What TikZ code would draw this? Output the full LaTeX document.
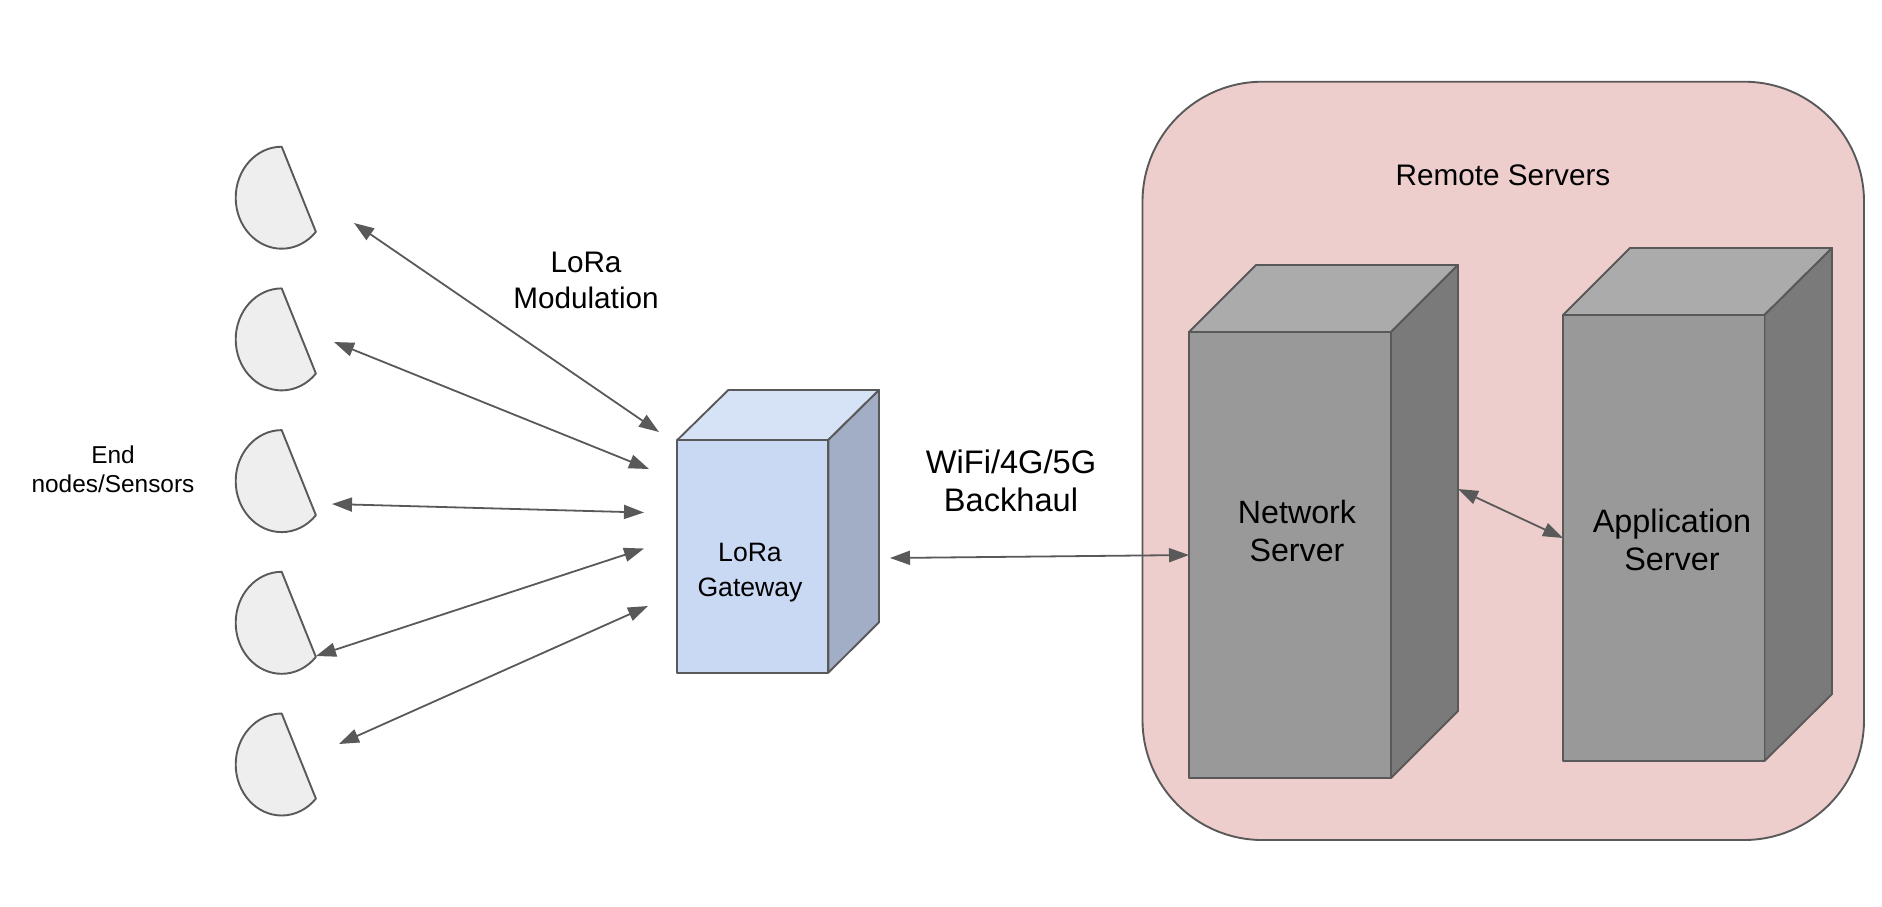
\documentclass[tikz,border=0pt]{standalone}
\usepackage{fontspec}
\setmainfont{Liberation Sans}
\usetikzlibrary{arrows.meta}
\definecolor{linegrey}{HTML}{595959}
\definecolor{linkgrey}{HTML}{595959}
\definecolor{sensorfill}{HTML}{EEEEEE}
\definecolor{panelfill}{HTML}{EECDCD}
\definecolor{gwfront}{HTML}{C9D8F3}
\definecolor{gwtop}{HTML}{D6E2F6}
\definecolor{gwside}{HTML}{A2AEC5}
\definecolor{srvfront}{HTML}{999999}
\definecolor{srvtop}{HTML}{ABABAB}
\definecolor{srvside}{HTML}{7A7A7A}
\tikzset{
  outline/.style={draw=linegrey,line width=1.9pt,line join=round},
  frontface/.style={outline,inner sep=0pt,outer sep=0pt,align=center},
  sensorshape/.style={outline,fill=sensorfill},
  link/.style={draw=linkgrey,line width=1.8pt,{Triangle[length=20pt,width=14pt]}-{Triangle[length=20pt,width=14pt]}},
  lab/.style={align=center,text=black,inner sep=0pt},
}
\begin{document}
\begin{tikzpicture}[x=1pt,y=-1pt]
\useasboundingbox (0,0) rectangle (1882,906);
% sensors: ellipse arc from top, round the left, to the lower right
\foreach \yy in {146.7,288.4,430.1,571.8,713.5}{
  \draw[sensorshape] (281.7,\yy) arc[start angle=270,delta angle=-228,x radius=46,y radius=51] -- cycle;
}
% gateway
\draw[outline,fill=gwtop] (677.3,440) -- (728.3,390) -- (879,390) -- (828.3,440) -- cycle;
\draw[outline,fill=gwside] (828.3,440) -- (879,390) -- (879,622.3) -- (828.3,672.7) -- cycle;
\node[frontface,fill=gwfront,minimum width=151pt,minimum height=232.7pt] (gw) at (752.8,556.35) {};
% remote panel
\draw[outline,fill=panelfill,rounded corners=120pt] (1142.5,81.7) rectangle (1864,840);
\node[lab,font=\fontsize{29.7}{38}\selectfont] (remote) at (1503,175) {Remote Servers};
% network server
\draw[outline,fill=srvtop] (1189,332) -- (1256,265) -- (1458,265) -- (1391,332) -- cycle;
\draw[outline,fill=srvside] (1391,332) -- (1458,265) -- (1458,711) -- (1391,778) -- cycle;
\node[frontface,fill=srvfront,minimum width=202pt,minimum height=446pt] (net) at (1290,555) {};
% application server
\draw[outline,fill=srvtop] (1563,315) -- (1630,248) -- (1832,248) -- (1764.5,315) -- cycle;
\draw[outline,fill=srvside] (1764.5,315) -- (1832,248) -- (1832,694) -- (1764.5,761) -- cycle;
\node[frontface,fill=srvfront,minimum width=201.5pt,minimum height=446pt] (app) at (1663.75,538) {};
% labels
\node[lab,font=\fontsize{24.4}{29}\selectfont] (endlab) at (113,469) {End\\nodes/Sensors};
\node[lab,font=\fontsize{29.7}{36}\selectfont] (modlab) at (586,280) {LoRa\\Modulation};
\node[lab,font=\fontsize{26.6}{35}\selectfont] (gwlab) at (750,573) {LoRa\\Gateway};
\node[lab,font=\fontsize{32.6}{38}\selectfont] (bhlab) at (1011,481) {WiFi/4G/5G\\Backhaul};
\node[lab,font=\fontsize{32.2}{38}\selectfont] (netlab) at (1297,531) {Network\\Server};
\node[lab,font=\fontsize{32.4}{38}\selectfont] (applab) at (1672,540) {Application\\Server};
% free ends of connectors
\coordinate (s1) at (354,223);   \coordinate (g1) at (659,432);
\coordinate (s2) at (334,342);   \coordinate (g2) at (649,469);
\coordinate (s3) at (332,504);   \coordinate (g3) at (644,512.5);
\coordinate (s4) at (316,656);   \coordinate (g4) at (644,548.5);
\coordinate (s5) at (339,744);   \coordinate (g5) at (648,606);
\coordinate (gwout) at (890,558);
\coordinate (netout) at (1458,489);
\draw[link] (s1) -- (g1);
\draw[link] (s2) -- (g2);
\draw[link] (s3) -- (g3);
\draw[link] (s4) -- (g4);
\draw[link] (s5) -- (g5);
\draw[link] (gwout) -- (net.west);
\draw[link] (netout) -- (app.west);
\end{tikzpicture}
\end{document}
